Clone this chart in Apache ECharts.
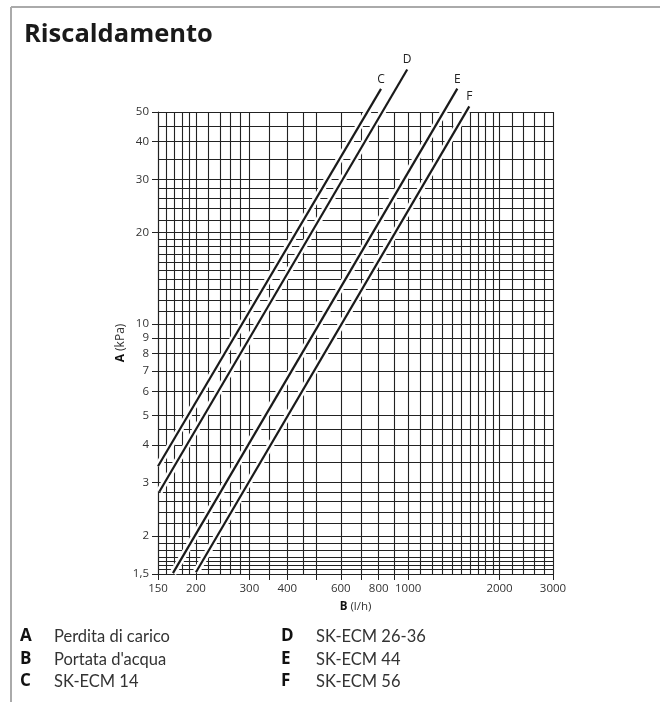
<!DOCTYPE html>
<html><head><meta charset="utf-8">
<script src="https://cdn.jsdelivr.net/npm/echarts@6/dist/echarts.min.js"></script>
<style>html,body{margin:0;padding:0;background:#fff}#c{width:660px;height:702px}</style>
</head><body><div id="c"></div>
<script>
// ---- data ----
const xTickLabels = [150, 200, 300, 400, 600, 800, 1000, 2000, 3000];
const xTickMarks = [150, 200, 300, 350, 400, 500, 600, 700, 800, 900, 1000, 2000, 3000];
const yTickLabels = [1.5, 2, 3, 4, 5, 6, 7, 8, 9, 10, 20, 30, 40, 50];
const xGrid = [150,160,170,180,190,200,220,240,260,280,300,350,400,450,500,600,700,800,900,1000,
  1100,1200,1300,1400,1500,1600,1700,1800,1900,2000,2200,2400,2600,2800,3000];
const yGrid = [1.5,1.55,1.6,1.65,1.7,1.8,1.9,2,2.2,2.4,2.6,2.8,3,3.5,4,4.5,5,6,7,8,9,10,
  11,12,13,14,15,16,17,18,19,20,22,24,26,28,30,35,40,45,50];
const curveNames = ['C', 'D', 'E', 'F'];
const curveC = [[150, 3.4], [814, 59.6]];
const curveD = [[151.5, 2.8], [993, 69]];
const curveE = [[168, 1.51], [1452, 59.7]];
const curveF = [[200, 1.52], [1590, 52.2]];
const keyLetters = ['A', 'B', 'C', 'D', 'E', 'F'];
const keyTexts = ['Perdita di carico', "Portata d'acqua", 'SK-ECM 14', 'SK-ECM 26-36', 'SK-ECM 44', 'SK-ECM 56'];
const titleText = 'Riscaldamento';

// ---- chart ----
const FONT = '"Open Sans", "Liberation Sans", sans-serif';
const KEYFONT = 'Lato, "Open Sans", sans-serif';
const curves = [curveC, curveD, curveE, curveF];
const series = [];
series.push({
  type: 'line', data: [], z: 1, silent: true,
  markLine: {
    z: 1, silent: true, symbol: ['none', 'none'], animation: false,
    label: { show: false },
    lineStyle: { color: '#222', width: 1.1, type: 'solid' },
    emphasis: { disabled: true },
    data: xGrid.map(v => ({ xAxis: v })).concat(yGrid.map(v => ({ yAxis: v })))
  }
});
curves.forEach((c, i) => {
  series.push({
    type: 'line', data: c, clip: false, z: 6, silent: true,
    symbol: 'none', lineStyle: { color: '#fff', width: 7, cap: 'butt' }
  });
  series.push({
    type: 'line', clip: false, z: 7, silent: true,
    symbol: 'circle', symbolSize: 1, showSymbol: true,
    itemStyle: { color: 'rgba(0,0,0,0)' },
    lineStyle: { color: '#1a1a1a', width: 2.2 },
    data: c.map((p, j) => j === c.length - 1
      ? { value: p, label: { show: true, position: 'top', distance: 3, formatter: curveNames[i],
          fontSize: 12, color: '#222', fontFamily: FONT } }
      : { value: p })
  });
});

const graphics = [
  { type: 'line', shape: { x1: 11, y1: 7, x2: 660, y2: 7 }, style: { stroke: '#aaa', lineWidth: 2 } },
  { type: 'line', shape: { x1: 11, y1: 7, x2: 11, y2: 702 }, style: { stroke: '#aaa', lineWidth: 2 } }
];
const rowsY = [638, 661, 683];
keyLetters.forEach((L, i) => {
  const col = i < 3 ? 0 : 1;
  const row = i % 3;
  graphics.push({ type: 'text', left: col ? 281 : 20, top: rowsY[row] - 10,
    style: { text: L, font: 'bold 17px ' + FONT, fill: '#111' } });
  graphics.push({ type: 'text', left: col ? 316 : 54, top: rowsY[row] - 10,
    style: { text: keyTexts[i], font: '16.5px ' + KEYFONT, fill: '#333' } });
});

const fmtNum = v => (Math.round(v * 100) / 100).toString().replace('.', ',');

const chart = echarts.init(document.getElementById('c'), null, { renderer: 'canvas' });
chart.setOption({
  animation: false,
  backgroundColor: '#fff',
  title: { text: titleText, left: 19, top: 17,
    textStyle: { fontSize: 25.5, fontWeight: 'bold', color: '#1a1a1a', fontFamily: FONT } },
  grid: { left: 158, right: 107, top: 112, bottom: 128 },
  xAxis: {
    type: 'log', logBase: 10, min: 150, max: 3000,
    splitLine: { show: false },
    axisLine: { show: true, lineStyle: { color: '#222', width: 1.1 } },
    axisTick: { show: true, customValues: xTickMarks, length: 6, lineStyle: { color: '#222' } },
    axisLabel: { customValues: xTickLabels, margin: 9, fontSize: 11.5, color: '#333', fontFamily: FONT,
      formatter: fmtNum },
    name: '{b|B} (l/h)', nameLocation: 'middle', nameGap: 27, nameMoveOverlap: false,
    nameTextStyle: { fontSize: 11.5, color: '#333', fontFamily: FONT,
      rich: { b: { fontWeight: 'bold', fontSize: 11.5, color: '#111', fontFamily: FONT } } }
  },
  yAxis: {
    type: 'log', logBase: 10, min: 1.5, max: 50,
    splitLine: { show: false },
    axisLine: { show: true, lineStyle: { color: '#222', width: 1.1 } },
    axisTick: { show: true, customValues: yTickLabels, length: 6, lineStyle: { color: '#222' } },
    axisLabel: { customValues: yTickLabels, margin: 9, fontSize: 11.5, color: '#333', fontFamily: FONT,
      formatter: fmtNum },
    name: '{b|A} (kPa)', nameLocation: 'middle', nameGap: 31, nameRotate: 90, nameMoveOverlap: false,
    nameTextStyle: { fontSize: 12, color: '#333', fontFamily: FONT,
      rich: { b: { fontWeight: 'bold', fontSize: 12, color: '#111', fontFamily: FONT } } }
  },
  graphic: graphics,
  series: series
});
</script></body></html>
